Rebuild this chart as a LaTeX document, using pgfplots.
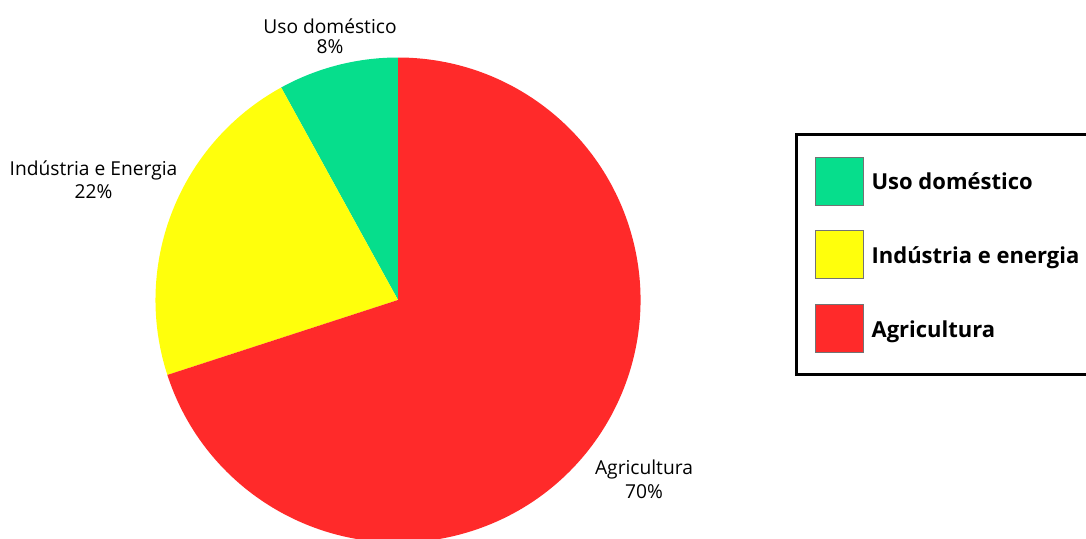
\documentclass[border=0pt]{standalone}
\usepackage{fontspec}
\setmainfont{Open Sans}
\usepackage{pgfplots}
\usepackage{pgfplotstable}
\pgfplotsset{compat=1.18}

\definecolor{usogreen}{RGB}{6,222,140}
\definecolor{indyellow}{RGB}{255,255,12}
\definecolor{agrired}{RGB}{255,42,42}

% water use by sector, percent
\pgfplotstableread{
sector value
uso     8
ind     22
agri    70
}\piedata

\begin{document}
\begin{tikzpicture}
\pgfplotstablegetelem{0}{value}\of\piedata \let\vA\pgfplotsretval
\pgfplotstablegetelem{1}{value}\of\piedata \let\vB\pgfplotsretval
\pgfplotstablegetelem{2}{value}\of\piedata \let\vC\pgfplotsretval
\pgfmathsetmacro\aA{90}
\pgfmathsetmacro\aB{\aA+3.6*\vA}
\pgfmathsetmacro\aC{\aB+3.6*\vB}
\def\R{181.875pt}

\begin{axis}[
    hide axis,
    scale only axis,
    width=363.75pt, height=363.75pt,
    xmin=-1, xmax=1, ymin=-1, ymax=1,
    anchor=center, at={(298.5pt,-225pt)},
    clip=false,
    legend image code/.code={
        \draw[#1, draw=black!55, line width=0.6pt] (0pt,-18pt) rectangle (36pt,18pt);
    },
    legend cell align=left,
    legend style={
        at={(1.3216,0.8412)}, anchor=north west,
        draw=black, line width=2.25pt, outer sep=0pt,
        inner xsep=14.25pt, inner ysep=16.5pt,
        row sep=18.75pt, column sep=5.5pt,
        nodes={inner sep=0pt, yshift=-1pt},
        font=\fontsize{16.5pt}{19pt}\selectfont\bfseries,
    },
]
\fill[usogreen]  (axis cs:0,0) -- ++(\aA:\R) arc[start angle=\aA, delta angle=3.6*\vA, radius=\R] -- cycle;
\fill[indyellow] (axis cs:0,0) -- ++(\aB:\R) arc[start angle=\aB, delta angle=3.6*\vB, radius=\R] -- cycle;
\fill[agrired]   (axis cs:0,0) -- ++(\aC:\R) arc[start angle=\aC, delta angle=3.6*\vC, radius=\R] -- cycle;

\addlegendimage{fill=usogreen}
\addlegendentry{Uso doméstico}
\addlegendimage{fill=indyellow}
\addlegendentry{Indústria e energia}
\addlegendimage{fill=agrired}
\addlegendentry{Agricultura}
\end{axis}

\begin{scope}[x=0.75pt, y=-0.75pt, every node/.style={anchor=base, inner sep=0pt, font=\fontsize{14.4pt}{17pt}\selectfont}]
\node at (330,33) {Uso doméstico};
\node at (330,53) {8\%};
\node at (93.5,175) {Indústria e Energia};
\node at (93.5,198) {22\%};
\node at (644,474) {Agricultura};
\node at (644,498) {70\%};
\end{scope}

\pgfresetboundingbox
\path[use as bounding box] (0pt,0pt) rectangle (814.5pt,-404.25pt);
\end{tikzpicture}
\end{document}
